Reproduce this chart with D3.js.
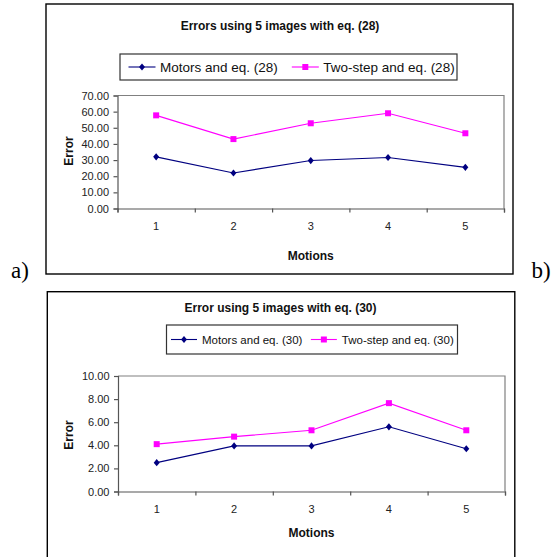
<!DOCTYPE html>
<html><head><meta charset="utf-8">
<script src="https://cdn.jsdelivr.net/npm/d3@7"></script>
<style>body{margin:0;background:#fff;} svg{display:block;}</style>
</head><body>
<svg id="c" width="553" height="557"></svg>
<script>
// ---- data ----
const categories = ["1", "2", "3", "4", "5"];
const motors28 = [32.0, 22.0, 29.7, 31.6, 25.5];
const twoStep28 = [57.7, 43.0, 52.8, 59.0, 46.6];
const motors30 = [2.5, 3.95, 3.95, 5.6, 3.7];
const twoStep30 = [4.1, 4.75, 5.3, 7.65, 5.3];
const yTicks28 = [0, 10, 20, 30, 40, 50, 60, 70];
const yTicks30 = [0, 2, 4, 6, 8, 10];
const titles = ["Errors using 5 images with eq. (28)", "Error using 5 images with eq. (30)"];
const legend28 = ["Motors and eq. (28)", "Two-step and eq. (28)"];
const legend30 = ["Motors and eq. (30)", "Two-step and eq. (30)"];
const xTitle = "Motions";
const yTitle = "Error";
const panelLabels = ["a)", "b)"];

const FONT = "'Liberation Sans', Arial, Helvetica, sans-serif";
const NAVY = "#000080", MAG = "#ff00ff";
const svg = d3.select("#c");

function diamond(cx, cy) { return `M${cx},${cy-3.6}L${cx+3},${cy}L${cx},${cy+3.6}L${cx-3},${cy}Z`; }
function square(cx, cy) { return `M${cx-3},${cy-3}h6v6h-6Z`; }

function drawChart(cfg) {
  const g = svg.append("g");
  const f = cfg.frame, p = cfg.plot;
  g.append("rect").attr("x", f.x).attr("y", f.y).attr("width", f.w).attr("height", f.h)
    .attr("fill", "#fff").attr("stroke", "#000").attr("stroke-width", 1.4);

  g.append("text").attr("x", cfg.titleX).attr("y", cfg.titleY).attr("text-anchor", "middle")
    .attr("dominant-baseline", "central").attr("font-family", FONT).attr("font-weight", "bold")
    .attr("font-size", 12).attr("fill", "#111").text(cfg.title);

  const x = d3.scaleBand().domain(categories).range([p.x, p.x + p.w]);
  const xb = d3.scaleLinear().domain([0, categories.length]).range([p.x, p.x + p.w]);
  const y = d3.scaleLinear().domain([0, cfg.yMax]).range([p.y + p.h, p.y]);

  // plot area border (top + right)
  g.append("path").attr("d", `M${p.x},${y(cfg.yMax)}H${xb(categories.length)}V${y(0)}`)
    .attr("fill", "none").attr("stroke", "#808080").attr("stroke-width", 1.2);

  // y axis
  const ya = g.append("g").attr("transform", `translate(${p.x},0)`)
    .call(d3.axisLeft(y).tickValues(cfg.yTicks).tickFormat(d => d.toFixed(2)).tickSize(4).tickPadding(4.5));
  // x axis boundary ticks
  const xa = g.append("g").attr("transform", `translate(0,${y(0)})`)
    .call(d3.axisBottom(xb).tickValues(d3.range(categories.length + 1)).tickFormat("").tickSize(4));
  // x labels
  const xl = g.append("g").attr("transform", `translate(0,${y(0)})`)
    .call(d3.axisBottom(x).tickSize(0).tickPadding(13.5));
  xl.select(".domain").remove();
  [ya, xa].forEach(a => { a.selectAll("path,line").attr("stroke", "#555").attr("stroke-width", 1.2); });
  [ya, xl].forEach(a => a.selectAll("text").attr("font-family", FONT).attr("font-size", 11).attr("fill", "#222"));

  // axis titles
  g.append("text").attr("x", x(categories[2]) + x.bandwidth() / 2 + cfg.xTitleDx).attr("y", cfg.xTitleY)
    .attr("text-anchor", "middle").attr("dominant-baseline", "central").attr("font-family", FONT)
    .attr("font-weight", "bold").attr("font-size", 12).attr("fill", "#111").text(xTitle);
  g.append("text").attr("transform", `translate(${cfg.yTitleX},${cfg.yTitleY}) rotate(-90)`)
    .attr("text-anchor", "middle").attr("dominant-baseline", "central").attr("font-family", FONT)
    .attr("font-weight", "bold").attr("font-size", 12).attr("fill", "#111").text(yTitle);

  // series
  const series = [
    { vals: cfg.motors, color: NAVY, mk: diamond },
    { vals: cfg.twoStep, color: MAG, mk: square }
  ];
  const line = d3.line().x((d, i) => x(categories[i]) + x.bandwidth() / 2).y(d => y(d));
  series.forEach(s => {
    g.append("path").datum(s.vals).attr("d", line).attr("fill", "none")
      .attr("stroke", s.color).attr("stroke-width", 1.1);
    g.selectAll(null).data(s.vals).enter().append("path")
      .attr("d", (d, i) => s.mk(x(categories[i]) + x.bandwidth() / 2, y(d))).attr("fill", s.color);
  });

  // legend
  const L = cfg.legend;
  g.append("rect").attr("x", L.x).attr("y", L.y).attr("width", L.w).attr("height", L.h)
    .attr("fill", "#fff").attr("stroke", "#333").attr("stroke-width", 1.2);
  const cy = L.y + L.h / 2;
  let cx = L.x + L.pad;
  series.forEach((s, i) => {
    g.append("line").attr("x1", cx).attr("x2", cx + L.lineLen).attr("y1", cy).attr("y2", cy)
      .attr("stroke", s.color).attr("stroke-width", 1.1);
    g.append("path").attr("d", s.mk(cx + L.lineLen / 2, cy)).attr("fill", s.color);
    const t = g.append("text").attr("x", cx + L.lineLen + L.textGap).attr("y", cy)
      .attr("dominant-baseline", "central").attr("font-family", FONT).attr("font-size", L.fs)
      .attr("fill", "#111").text(cfg.legendLabels[i]);
    cx = cx + L.lineLen + L.textGap + t.node().getComputedTextLength() + L.entryGap;
  });
}

drawChart({
  frame: { x: 46, y: 4, w: 467, h: 270 },
  plot: { x: 117.5, y: 95.5, w: 386.5, h: 113 },
  title: titles[0], titleX: 280, titleY: 25.5,
  yMax: 70, yTicks: yTicks28, motors: motors28, twoStep: twoStep28,
  xTitleY: 256, xTitleDx: 0, yTitleX: 69, yTitleY: 151,
  legendLabels: legend28,
  legend: { x: 120, y: 54, w: 337, h: 26, pad: 8.5, lineLen: 27, textGap: 4.5, entryGap: 14, fs: 13.5 }
});
drawChart({
  frame: { x: 47.3, y: 291.7, w: 467.5, h: 280 },
  plot: { x: 118, y: 376, w: 387, h: 115.5 },
  title: titles[1], titleX: 280.5, titleY: 307.5,
  yMax: 10, yTicks: yTicks30, motors: motors30, twoStep: twoStep30,
  xTitleY: 532.5, xTitleDx: 0, yTitleX: 69, yTitleY: 435,
  legendLabels: legend30,
  legend: { x: 166.5, y: 325, w: 291, h: 29, pad: 4.5, lineLen: 26, textGap: 5, entryGap: 8.5, fs: 11.5 }
});

// panel labels
svg.append("text").attr("x", 11).attr("y", 278).attr("font-family", "'Liberation Serif', 'Times New Roman', serif")
  .attr("font-size", 23).attr("fill", "#000").text(panelLabels[0]);
svg.append("text").attr("x", 531.5).attr("y", 278).attr("font-family", "'Liberation Serif', 'Times New Roman', serif")
  .attr("font-size", 23).attr("fill", "#000").text(panelLabels[1]);
</script>
</body></html>
